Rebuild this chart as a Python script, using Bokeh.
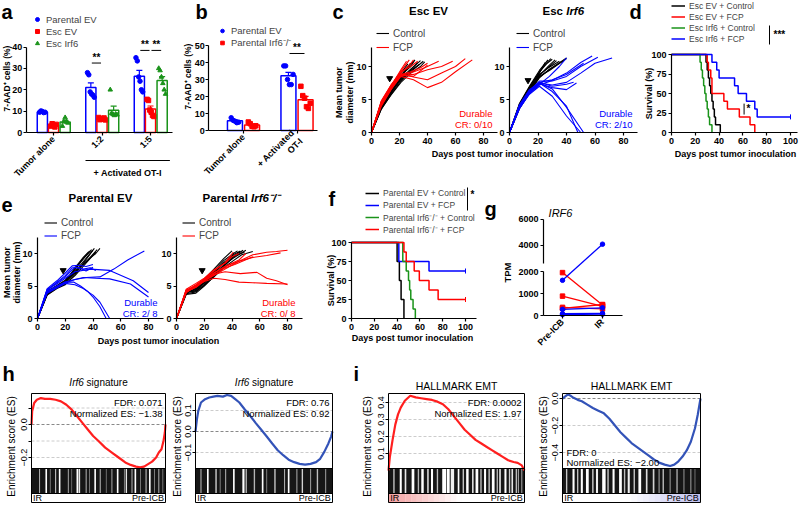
import math
from bokeh.plotting import figure
from bokeh.models import (Range1d, LinearAxis, FixedTicker, Label, Legend, LegendItem,
                          ColumnDataSource, Whisker, TeeHead)
from bokeh.embed import file_html
from bokeh.resources import INLINE

FONT = "Liberation Sans"
BLUE, RED, GREEN, BLACK = "#0000ff", "#ff0000", "#1a931a", "#000000"
GS_RED, GS_BLUE = "#ff1f1f", "#3353b8"

# ======================= DATA =======================
# (a) 7-AAD+ cells (%)
a_groups = ["Tumor alone", "1:2", "1:5"]
a_series = ["Parental EV", "Esc EV", "Esc Irf6"]
a_pev_mean = [9.6, 21.0, 26.3]
a_pev_sem = [0.3, 2.2, 2.8]
a_pev_pts = [[9.5, 10.1, 9.8, 9.3, 9.5], [28.0, 27.0, 19.0, 18.0, 17.5, 16.5], [35.0, 33.5, 26.0, 24.0, 20.0, 19.0]]
a_esc_mean = [3.4, 6.4, 11.0]
a_esc_sem = [0.5, 0.3, 1.4]
a_esc_pts = [[3.0, 4.1, 3.5, 2.6, 3.8], [7.0, 6.0, 6.5, 6.2, 6.8, 5.9], [15.5, 15.0, 10.5, 9.5, 8.0, 7.5]]
a_irf_mean = [4.9, 10.4, 24.3]
a_irf_sem = [0.9, 1.9, 1.8]
a_irf_pts = [[3.0, 5.0, 7.0, 5.0, 4.5], [20.0, 9.0, 8.5, 8.0, 8.6, 8.3], [30.0, 29.0, 26.0, 23.0, 20.0, 18.0]]
a_sig = [(1, 0, 1, 32.5, "**"), (2, 0, 1, 38.4, "**"), (2, 1, 2, 38.4, "**")]

# (b)
b_groups = ["Tumor alone", "+ Activated\nOT-I"]
b_series = ["Parental EV", "Parental Irf6⁻/⁻"]
b_pev_mean = [5.7, 32.2]
b_pev_sem = [0.5, 2.0]
b_pev_pts = [[7.5, 6.0, 5.5, 4.6, 4.9], [38.0, 38.0, 30.0, 27.0, 27.0, 33.0]]
b_ko_mean = [3.3, 18.1]
b_ko_sem = [0.5, 2.0]
b_ko_pts = [[5.0, 4.0, 2.5, 2.2, 2.8], [26.0, 20.5, 19.0, 14.0, 13.0, 16.0]]
b_sig = [(1, 0, 1, 45.3, "**")]

# (c) tumour growth, Esc EV / Esc Irf6
c_ev_ctrl_d = [[0,7,14,21,25,28],[0,7,14,21,26,30],[0,7,14,21,28,33],[0,7,14,21,28,35],[0,7,14,21,28,37],
               [0,7,14,21,28,31],[0,7,14,21,26],[0,7,14,21,28,35,38],[0,7,14,21,24,28],[0,7,14,21,28,34]]
c_ev_ctrl_v = [[0,3.8,6.0,8.3,9.5,10.5],[0,4.2,6.3,8.5,9.8,10.8],[0,3.5,5.8,7.8,9.5,10.6],[0,4.0,6.2,8.2,9.6,10.9],
               [0,3.9,6.1,8.0,9.2,10.8],[0,4.4,6.8,8.7,10.0,11.0],[0,4.6,7.0,9.0,10.4],[0,3.6,5.7,7.6,9.0,10.0,10.7],
               [0,4.1,6.5,8.6,9.5,10.5],[0,3.7,6.0,8.1,9.4,10.3]]
c_ev_fcp_d = [[0,7,14,21,25],[0,7,14,21,27],[0,7,14,21,28,30],[0,7,14,21,28,33],[0,7,14,21,28,35,40],
              [0,7,14,21,28,38,48],[0,7,14,21,30,40,50,58],[0,7,14,21,30,40,50,60,67],[0,7,14,21,30,40,50,60,72],
              [0,7,14,21,30,36,40]]
c_ev_fcp_v = [[0,4.5,7.0,9.5,10.8],[0,4.8,7.2,9.3,11.0],[0,4.3,6.8,9.0,10.4,11.0],[0,4.6,7.1,9.2,10.0,10.8],
              [0,4.2,6.6,8.8,9.2,9.8,10.5],[0,4.4,6.9,8.7,9.0,9.8,10.8],[0,4.0,6.5,8.6,8.8,9.5,10.0,10.8],
              [0,4.7,7.2,8.9,8.4,8.0,9.0,10.0,11.2],[0,4.1,6.6,8.5,8.0,6.8,7.6,9.2,11.0],[0,4.3,6.9,8.7,8.5,9.5,10.2]]
c_irf_ctrl_d = [[0,7,14,21,25],[0,7,14,21,26,30],[0,7,14,21,28,32],[0,7,14,21,28,35],[0,7,14,21,28,40],
                [0,7,14,21,27],[0,7,14,21,28,33],[0,7,14,21,28,37],[0,7,14,21,25,29],[0,7,14,21,28,40]]
c_irf_ctrl_v = [[0,4.1,6.6,9.0,10.6],[0,4.3,6.8,9.2,10.4,11.1],[0,3.8,6.3,8.6,10.2,11.0],[0,4.0,6.5,8.8,9.9,10.8],
                [0,3.7,6.2,8.5,9.4,11.2],[0,4.4,7.0,9.4,11.0],[0,3.9,6.4,8.7,10.0,10.9],[0,3.6,6.0,8.3,9.6,10.8],
                [0,4.2,6.9,9.1,10.3,11.2],[0,4.0,6.4,8.4,9.5,11.3]]
c_irf_fcp_d = [[0,7,14,21,30,40,50,60,72],[0,7,14,21,30,40,50,62],[0,7,14,21,30,40,50,58],[0,7,14,21,30,40,52],
               [0,7,14,21,30,40,47],[0,7,14,21,28,35,40],[0,7,14,21,30,40,48],[0,7,14,21,30,40,50,60,70,80],
               [0,7,14,21,30,40,45],[0,7,14,21,30,40,52]]
c_irf_fcp_v = [[0,3.8,6.0,7.5,7.2,7.6,9.0,10.5,11.3],[0,4.0,6.3,7.8,7.8,8.5,10.0,11.4],[0,3.6,5.9,7.2,7.9,9.0,10.6,11.6],
               [0,4.2,6.5,7.6,8.0,8.8,10.5],[0,4.0,6.2,7.4,6.8,6.5,7.5],[0,3.9,6.0,7.3,8.5,10.0,11.3],
               [0,4.1,6.2,7.5,6.2,4.0,0.0],[0,3.7,5.8,7.0,5.5,2.5,0.0,0.0,0.0,0.0],[0,3.9,6.2,7.6,7.0,7.3,7.6],
               [0,4.1,6.3,7.5,6.6,3.8,0.0]]
c_treat_day = [13, 13]
c_treat_mm = [8.2, 7.9]
c_cr = ["CR: 0/10", "CR: 2/10"]

# (d) survival, Esc
d_names = ["Esc EV + Control", "Esc EV + FCP", "Esc Irf6 + Control", "Esc Irf6 + FCP"]
d_t = [[0,29,30,31,32,33,34,35,36,37,41], [0,30,31,33,34,44,47,57,66,70],
       [0,24,25,26,27,28,29,30,31,32,34], [0,34,38,40,53,56,63,70,72,100]]
d_s = [[100,90,80,70,60,50,40,30,20,10,0], [100,90,80,70,50,40,30,20,10,0],
       [100,90,80,70,60,50,40,30,20,10,0], [100,90,80,70,60,50,40,30,20,20]]

# (e) tumour growth, Parental EV / Parental Irf6-/-
e_ev_ctrl_d = [[0,7,14,20,27,34,41],[0,7,14,20,27,34,42,45],[0,7,14,20,27,34,40],[0,7,14,20,27,34,39],
               [0,7,14,20,27,33,38],[0,7,14,20,27,34,42],[0,7,14,20,27,35,43],[0,7,14,20,27,33,37]]
e_ev_ctrl_v = [[0,3.8,4.8,5.5,7.2,9.0,10.8],[0,4.0,5.0,5.6,7.0,8.6,10.0,10.8],[0,3.6,4.6,5.2,6.8,8.8,10.5],
               [0,4.2,5.1,5.9,7.6,9.4,10.6],[0,3.9,4.9,5.7,7.5,9.3,10.4],[0,3.7,4.7,5.3,6.6,8.3,10.2],
               [0,4.1,5.0,5.8,7.2,8.7,10.6],[0,3.8,4.9,5.6,7.8,9.4,10.3]]
e_ev_fcp_d = [[0,7,14,20,27,35,45,55,65,77],[0,7,14,20,27,38,52,69,80],[0,7,14,20,27,33,42,52,67,80],
              [0,7,14,20,25,30,35,40],[0,7,14,20,27,33,38,42],[0,7,14,20,26,31,36,40,45,49.5],
              [0,7,14,20,27,33,40,45,52,60,69],[0,7,14,20,25,30,35,40]]
e_ev_fcp_v = [[0,4.2,5.0,5.6,6.0,6.3,6.4,7.6,9.0,10.4],[0,4.5,5.3,6.2,7.2,7.6,7.4,5.8,4.0],
              [0,4.0,4.8,5.5,6.0,6.3,6.2,6.1,5.3,3.3],[0,4.6,5.8,7.0,8.1,8.2,8.0,8.3],[0,4.3,5.5,6.4,7.9,7.6,7.8,7.4],
              [0,4.1,4.9,5.6,5.6,5.0,4.2,3.3,1.8,0.0],[0,3.9,4.7,5.4,5.2,4.6,3.6,2.5,0.0,0.0,0.0],
              [0,4.4,5.6,6.6,7.8,7.8,7.3,7.9]]
e_ko_ctrl_d = [[0,7,14,20,27,34,41,46],[0,7,14,20,27,34,41,48],[0,7,14,20,27,34,41,50],[0,7,14,20,27,34,41,44],
               [0,7,14,20,27,34,41,47,55],[0,7,14,20,27,34,40],[0,7,14,20,27,34,41,46],[0,7,14,20,27,34,41,49]]
e_ko_ctrl_v = [[0,4.0,4.3,5.4,7.0,8.6,9.8,10.4],[0,3.8,4.1,5.2,6.6,8.1,9.5,10.5],[0,4.2,4.4,5.5,6.8,8.2,9.3,10.5],
               [0,3.9,4.6,5.8,7.3,8.9,10.0,10.4],[0,4.1,4.2,5.1,6.4,7.8,8.9,9.8,10.3],[0,4.3,4.7,6.0,7.6,9.2,10.4],
               [0,3.7,3.9,5.0,6.5,8.0,9.5,10.3],[0,4.0,4.5,5.6,7.1,8.5,9.6,10.2]]
e_ko_fcp_d = [[0,7,14,20,27,35,45,55,65,72,80],[0,7,14,20,27,35,45,55,65,75],[0,7,14,20,27,35,45,55,65,80],
              [0,7,14,20,27,35,46,58,65,72,80],[0,7,14,20,27,35,45,50],[0,7,14,20,27,35,40,45],
              [0,7,14,20,27,35,42,55],[0,7,14,20,27,35,41]]
e_ko_fcp_v = [[0,4.2,4.8,5.8,6.6,7.6,8.8,9.8,10.2,10.3,10.5],[0,4.0,5.0,6.0,7.0,8.0,8.8,9.4,9.7,10.1],
              [0,4.4,5.0,5.7,6.2,6.0,5.6,5.5,5.4,5.3],[0,4.1,4.8,5.8,6.8,7.2,6.9,7.1,6.2,5.8,5.2],
              [0,4.3,5.1,6.0,7.0,8.0,9.0,10.0],[0,4.5,5.4,6.2,7.5,8.5,9.5,10.0],[0,4.0,5.0,5.8,6.7,7.8,8.3,9.5],
              [0,4.2,5.2,6.1,7.3,8.6,10.2]]
e_treat_day = [18.5, 18.5]
e_treat_mm = [7.4, 7.4]
e_cr = ["CR: 2/ 8", "CR: 0/ 8"]

# (f) survival, Parental
f_names = ["Parental EV + Control", "Parental EV + FCP", "Parental Irf6⁻/⁻ + Control", "Parental Irf6⁻/⁻ + FCP"]
f_t = [[0,40,42,43.5,46], [0,41.5,68,100], [0,45,48,50,51,52,54,56], [0,46,48,55,59.5,68,76,100]]
f_s = [[100,75,50,25,0], [100,75,62.5,62.5], [100,75,62.5,50,37.5,25,12.5,0], [100,87.5,75,62.5,50,37.5,25,25]]

# (g) IRF6 TPM, paired
g_cats = ["Pre-ICB", "IR"]
g_red_pre = [1950, 880, 370, 320]
g_red_ir = [480, 420, 300, 500]
g_blue_pre = [1600, 280, 80, 40]
g_blue_ir = [4100, 350, 100, 60]

# (h, i) GSEA running enrichment scores
h1_x = [0,0.005,0.02,0.04,0.07,0.10,0.14,0.18,0.22,0.26,0.30,0.34,0.38,0.42,0.46,0.50,0.55,0.60,0.65,0.70,
        0.74,0.78,0.81,0.84,0.87,0.90,0.93,0.95,0.97,0.985,0.995,1.0]
h1_es = [0,0.08,0.13,0.15,0.16,0.155,0.155,0.15,0.14,0.12,0.09,0.05,0.01,-0.03,-0.07,-0.10,-0.14,-0.17,-0.20,
         -0.23,-0.245,-0.255,-0.26,-0.255,-0.24,-0.225,-0.2,-0.17,-0.15,-0.10,-0.05,0.0]
h2_x = [0,0.01,0.02,0.04,0.07,0.10,0.13,0.16,0.20,0.23,0.26,0.29,0.32,0.36,0.40,0.44,0.48,0.52,0.56,0.60,0.64,
        0.68,0.72,0.76,0.80,0.84,0.88,0.91,0.94,0.97,0.99,1.0]
h2_es = [0,0.057,0.097,0.138,0.154,0.162,0.166,0.17,0.166,0.174,0.17,0.154,0.138,0.105,0.073,0.04,0.008,-0.024,
         -0.057,-0.089,-0.113,-0.134,-0.146,-0.154,-0.158,-0.154,-0.146,-0.13,-0.097,-0.057,-0.024,0.0]
i1_x = [0,0.01,0.03,0.05,0.07,0.09,0.12,0.16,0.20,0.24,0.28,0.32,0.36,0.40,0.44,0.48,0.52,0.56,0.60,0.64,0.68,
        0.72,0.76,0.80,0.84,0.88,0.92,0.95,0.98,1.0]
i1_es = [0,0.08,0.18,0.27,0.33,0.37,0.41,0.44,0.43,0.425,0.42,0.415,0.405,0.39,0.36,0.32,0.28,0.24,0.21,0.18,
         0.16,0.14,0.12,0.1,0.08,0.06,0.05,0.045,0.03,0.0]
i2_x = [0,0.02,0.04,0.06,0.08,0.11,0.14,0.18,0.22,0.26,0.30,0.34,0.38,0.42,0.46,0.50,0.54,0.58,0.62,0.66,0.70,
        0.74,0.78,0.81,0.84,0.87,0.90,0.93,0.96,0.98,1.0]
i2_es = [0,0.015,0.03,0.02,0.005,-0.01,-0.02,-0.045,-0.07,-0.09,-0.11,-0.15,-0.2,-0.25,-0.29,-0.33,-0.36,-0.39,
         -0.42,-0.45,-0.475,-0.49,-0.5,-0.49,-0.465,-0.43,-0.385,-0.32,-0.22,-0.12,0.0]
# gene-set hit stripes in the barcode (position, width, grey level)
h1_bc_pos = [0.06,0.11,0.14,0.18,0.21,0.275,0.30,0.343,0.358,0.408,0.433,0.475,0.513,0.558,0.60,0.643,0.693,0.708,
             0.75,0.775,0.813,0.855,0.883,0.918,0.95,0.98]
h1_bc_w = [0.008,0.012,0.006,0.008,0.012,0.008,0.006,0.014,0.01,0.008,0.006,0.012,0.008,0.006,0.008,0.012,0.006,
           0.01,0.008,0.012,0.006,0.008,0.012,0.006,0.008,0.006]
h1_bc_g = [170,255,140,200,255,160,120,255,230,170,140,255,180,130,160,255,150,230,170,255,140,190,255,150,170,140]
h2_bc_pos = [0.04,0.09,0.15,0.18,0.22,0.28,0.35,0.37,0.43,0.49,0.52,0.58,0.65,0.68,0.74,0.78,0.84,0.89,0.95]
h2_bc_w = [0.008,0.012,0.01,0.006,0.008,0.012,0.016,0.008,0.01,0.012,0.006,0.01,0.008,0.012,0.008,0.01,0.008,0.01,0.008]
h2_bc_g = [180,255,210,150,170,255,255,220,180,255,150,200,170,255,160,210,150,190,150]
i1_bc_pos = [0.04,0.09,0.125,0.18,0.22,0.25,0.29,0.32,0.36,0.41,0.44,0.47,0.515,0.55,0.58,0.62,0.65,0.68,0.71,
             0.74,0.77,0.80,0.82,0.86,0.89,0.91,0.94,0.955,0.98]
i1_bc_w = [0.01,0.015,0.012,0.02,0.01,0.018,0.012,0.015,0.01,0.03,0.02,0.025,0.012,0.01,0.018,0.012,0.02,0.01,
           0.015,0.01,0.02,0.01,0.012,0.015,0.01,0.012,0.01,0.008,0.008]
i1_bc_g = [200,255,230,255,180,255,210,255,190,255,255,240,255,200,255,220,255,190,255,200,255,180,230,255,200,
           230,190,170,160]
i2_bc_pos = [0.03,0.08,0.11,0.14,0.18,0.22,0.25,0.30,0.33,0.37,0.42,0.45,0.48,0.52,0.56,0.61,0.66,0.70,0.73,0.78,
             0.83,0.88,0.93,0.96]
i2_bc_w = [0.01,0.015,0.01,0.015,0.02,0.01,0.015,0.025,0.01,0.015,0.02,0.01,0.015,0.01,0.02,0.012,0.012,0.008,
           0.01,0.008,0.01,0.008,0.008,0.006]
i2_bc_g = [200,255,190,255,255,210,240,255,200,255,255,190,240,200,255,220,210,160,190,150,170,140,150,130]

# ======================= CANVAS =======================
W, H, OX, OY = 800, 505, 0, 0
p = figure(width=W, height=H, output_backend="svg", toolbar_location=None,
           x_range=Range1d(OX, OX + W), y_range=Range1d(OY + H, OY),
           x_axis_location=None, y_axis_location=None, min_border=0)
p.outline_line_color = None
p.grid.visible = False
p.background_fill_color = "white"
p.border_fill_color = "white"

XR, YR = {}, {}


def xmap(name, v0, p0, v1, p1):
    s = (p1 - p0) / (v1 - v0)
    XR[name] = Range1d(v0 + (OX - p0) / s, v0 + (OX + W - p0) / s)


def ymap(name, v0, p0, v1, p1):
    s = (p1 - p0) / (v1 - v0)
    YR[name] = Range1d(v0 + (OY + H - p0) / s, v0 + (OY - p0) / s)


def axis(side, xn, yn, loc, bounds, ticks, labels=None, size="9px", style="bold",
         orient="horizontal", lw=1.2, tick_out=3, standoff=2):
    ax = LinearAxis(x_range_name=xn, y_range_name=yn, fixed_location=loc, bounds=bounds,
                    ticker=FixedTicker(ticks=ticks))
    if labels is not None:
        ax.major_label_overrides = labels
    ax.major_label_text_font = FONT
    ax.major_label_text_font_size = size
    ax.major_label_text_font_style = style
    ax.major_label_text_color = BLACK
    ax.major_label_orientation = orient
    ax.major_label_standoff = standoff
    ax.axis_line_width = lw
    ax.axis_line_color = BLACK
    ax.major_tick_line_width = lw
    ax.major_tick_out = tick_out
    ax.major_tick_in = 0
    ax.minor_tick_out = 0
    ax.minor_tick_in = 0
    p.add_layout(ax, side)
    return ax


def lbl(x, y, t, size="10px", style="normal", color=BLACK, align="left", base="middle",
        angle=0.0, xn="default", yn="default"):
    p.add_layout(Label(x=x, y=y, text=t, text_font=FONT, text_font_size=size, text_font_style=style,
                       text_color=color, text_align=align, text_baseline=base, angle=angle,
                       x_range_name=xn, y_range_name=yn))


def legend(items, left, top, size="10px", glyph_w=12, row_h=12, standoff=4):
    lg = Legend(items=[LegendItem(label=l, renderers=[r]) for l, r in items],
                location=(left - OX, OY + H - (top + row_h * len(items))))
    lg.label_text_font = FONT
    lg.label_text_font_size = size
    lg.label_height = row_h
    lg.glyph_height = row_h - 2
    lg.glyph_width = glyph_w
    lg.label_standoff = standoff
    lg.spacing = 0
    lg.padding = 0
    lg.margin = 0
    lg.border_line_color = None
    lg.background_fill_alpha = 0
    p.add_layout(lg)


def letter(x, y, t):
    lbl(x, y, t, size="20px", style="bold", base="top")


def seg(xn, yn, x0, y0, x1, y1, color=BLACK, lw=1.0, dash="solid"):
    p.segment(x0=[x0], y0=[y0], x1=[x1], y1=[y1], line_color=color, line_width=lw, line_dash=dash,
              x_range_name=xn, y_range_name=yn)


def bars(xn, yn, offs, width, means, sems, pts, colors, markers, spread):
    rs = []
    for k in range(len(means)):
        m, s, pp = means[k], sems[k], pts[k]
        xs = [g + offs[k] for g in range(len(m))]
        src = ColumnDataSource(dict(x=xs, top=m, lo=[a - b for a, b in zip(m, s)],
                                    hi=[a + b for a, b in zip(m, s)]))
        p.vbar(x="x", top="top", bottom=0, width=width, source=src, fill_color="white",
               line_color=colors[k], line_width=1.5, x_range_name=xn, y_range_name=yn)
        p.add_layout(Whisker(source=src, base="x", lower="lo", upper="hi", dimension="height",
                             line_color=colors[k], line_width=1.2,
                             upper_head=TeeHead(size=6, line_color=colors[k], line_width=1.2),
                             lower_head=TeeHead(size=6, line_color=colors[k], line_width=1.2),
                             x_range_name=xn, y_range_name=yn))
        px, py = [], []
        for g, vals in enumerate(pp):
            n = len(vals)
            for i, v in enumerate(vals):
                px.append(g + offs[k] + (i - (n - 1) / 2) * spread)
                py.append(v)
        rs.append(p.scatter(px, py, marker=markers[k], size=4.5, color=colors[k],
                            x_range_name=xn, y_range_name=yn))
    return rs


def sig(xn, yn, offs, sigs):
    for g, i, j, y, t in sigs:
        x0, x1 = g + offs[i] + 0.02, g + offs[j] - 0.02
        seg(xn, yn, x0, y, x1, y, lw=1.0)
        lbl((x0 + x1) / 2, y, t, size="10px", style="bold", align="center", base="bottom", xn=xn, yn=yn)


# ---------------- (a) ----------------
xmap("ax", 0, 53, 2, 150)
ymap("ay", 0, 132, 40, 46.5)
a_off = [-0.23, 0.0, 0.24]
a_rs = bars("ax", "ay", a_off, 0.21, [a_pev_mean, a_esc_mean, a_irf_mean], [a_pev_sem, a_esc_sem, a_irf_sem],
            [a_pev_pts, a_esc_pts, a_irf_pts], [BLUE, RED, GREEN], ["circle", "square", "triangle"], 0.028)
axis("left", "ax", "ay", -0.56, (0, 40), [0, 10, 20, 30, 40], standoff=1)
axis("below", "ax", "ay", 0, (-0.56, 2.45), [0, 1, 2], {i: g for i, g in enumerate(a_groups)},
     orient=math.pi / 4)
sig("ax", "ay", a_off, a_sig)
seg("ax", "default", 0.66, 160, 2.4, 160, lw=1.0)
lbl(1.53, 172, "+ Activated OT-I", size="9px", style="bold", align="center", xn="ax")
lbl(6, 78, "7-AAD⁺ cells (%)", size="8.5px", style="bold", align="center", angle=math.pi / 2)
legend(list(zip(a_series, a_rs)), 32, 13, size="9.5px", glyph_w=10, row_h=12)
letter(1, 0, "a")

# ---------------- (b) ----------------
xmap("bx", 0, 243, 1, 296.5)
ymap("by", 0, 130, 50, 45)
b_off = [-0.16, 0.16]
b_rs = bars("bx", "by", b_off, 0.28, [b_pev_mean, b_ko_mean], [b_pev_sem, b_ko_sem], [b_pev_pts, b_ko_pts],
            [BLUE, RED], ["circle", "square"], 0.035)
axis("left", "bx", "by", -0.65, (0, 50), [0, 10, 20, 30, 40, 50], standoff=1)
axis("below", "bx", "by", 0, (-0.65, 1.38), [0, 1], {i: g for i, g in enumerate(b_groups)}, orient=math.pi / 4)
sig("bx", "by", b_off, b_sig)
lbl(187, 76, "7-AAD⁺ cells (%)", size="8.5px", style="bold", align="center", angle=math.pi / 2)
legend(list(zip(b_series, b_rs)), 217, 27, size="9.5px", glyph_w=10, row_h=11)
letter(195, 0, "b")

# ---------------- (c) ----------------
ymap("cy", 0, 132, 10, 66)
xmap("c1x", 0, 371, 80, 483)
xmap("c2x", 0, 509, 80, 623)
c_sets = [("c1x", c_ev_ctrl_d, c_ev_ctrl_v, c_ev_fcp_d, c_ev_fcp_v, RED, 376, 492),
          ("c2x", c_irf_ctrl_d, c_irf_ctrl_v, c_irf_fcp_d, c_irf_fcp_v, BLUE, 516, 632)]
for k, (xn, cd, cv, fd, fv, col, lx, rx) in enumerate(c_sets):
    r_ctrl = p.multi_line(xs=cd, ys=cv, line_color=BLACK, line_width=1.1, x_range_name=xn, y_range_name="cy")
    r_fcp = p.multi_line(xs=fd, ys=fv, line_color=col, line_width=1.1, x_range_name=xn, y_range_name="cy")
    axis("left", xn, "cy", 0, (0, 12.9), [0, 5, 10])
    axis("below", xn, "cy", 0, (0, 90), [0, 20, 40, 60, 80])
    p.scatter([c_treat_day[k]], [c_treat_mm[k]], marker="inverted_triangle", size=6, color=BLACK,
              x_range_name=xn, y_range_name="cy")
    legend([("Control", r_ctrl), ("FCP", r_fcp)], lx, 26, size="10px", glyph_w=13, row_h=14)
    lbl(rx, 113, "Durable", size="9.5px", color=col, align="right")
    lbl(rx, 124, c_cr[k], size="9.5px", color=col, align="right")
lbl(428, 10, "Esc EV", size="11.5px", style="bold", align="center")
lbl(562.5, 10, "Esc", size="11.5px", style="bold", align="right")
lbl(565.7, 10, "Irf6", size="11.5px", style="bold italic", align="left")
lbl(492, 153, "Days post tumor inoculation", size="9px", style="bold", align="center")
lbl(338, 92, "Mean tumor", size="9px", style="bold", align="center", angle=math.pi / 2)
lbl(349, 92, "diameter (mm)", size="9px", style="bold", align="center", angle=math.pi / 2)
letter(332, 0, "c")

# ---------------- (d) ----------------
xmap("dx", 0, 671, 100, 790)
ymap("dy", 0, 132, 100, 54)
d_cols = [BLACK, RED, GREEN, BLUE]
d_rs = []
for t, s, c in zip(d_t, d_s, d_cols):
    d_rs.append(p.step(x=t, y=s, mode="after", line_color=c, line_width=1.5, x_range_name="dx", y_range_name="dy"))
p.scatter([d_t[3][-1]], [d_s[3][-1]], marker="dash", angle=math.pi / 2, size=5, color=BLUE,
          x_range_name="dx", y_range_name="dy")
axis("left", "dx", "dy", 0, (0, 100), [0, 25, 50, 75, 100])
axis("below", "dx", "dy", 0, (0, 106), [0, 20, 40, 60, 80, 100])
legend(list(zip(d_names, d_rs)), 671, 0, size="8.5px", glyph_w=14, row_h=11, standoff=4)
seg("default", "default", 769, 25, 769, 44)
lbl(773, 34, "***", size="10px", style="bold")
seg("dx", "dy", 61, 23, 61, 37)
lbl(63, 31, "*", size="10px", style="bold", xn="dx", yn="dy")
lbl(735, 153, "Days post tumor inoculation", size="9px", style="bold", align="center")
lbl(648, 93, "Survival (%)", size="9px", style="bold", align="center", angle=math.pi / 2)
letter(629, 0, "d")

# ---------------- (e) ----------------
ymap("ey", 0, 318, 10, 253)
xmap("e1x", 0, 37, 80, 148)
xmap("e2x", 0, 176, 80, 287)
e_sets = [("e1x", e_ev_ctrl_d, e_ev_ctrl_v, e_ev_fcp_d, e_ev_fcp_v, BLUE, 44, 157),
          ("e2x", e_ko_ctrl_d, e_ko_ctrl_v, e_ko_fcp_d, e_ko_fcp_v, RED, 182, 295)]
for k, (xn, cd, cv, fd, fv, col, lx, rx) in enumerate(e_sets):
    r_ctrl = p.multi_line(xs=cd, ys=cv, line_color=BLACK, line_width=1.1, x_range_name=xn, y_range_name="ey")
    r_fcp = p.multi_line(xs=fd, ys=fv, line_color=col, line_width=1.1, x_range_name=xn, y_range_name="ey")
    axis("left", xn, "ey", 0, (0, 12.5), [0, 5, 10])
    axis("below", xn, "ey", 0, (0, 91), [0, 20, 40, 60, 80])
    p.scatter([e_treat_day[k]], [e_treat_mm[k]], marker="inverted_triangle", size=6, color=BLACK,
              x_range_name=xn, y_range_name="ey")
    legend([("Control", r_ctrl), ("FCP", r_fcp)], lx, 216, size="10px", glyph_w=13, row_h=13)
    lbl(rx, 302, "Durable", size="9.5px", color=col, align="right")
    lbl(rx, 313, e_cr[k], size="9.5px", color=col, align="right")
lbl(100, 197, "Parental EV", size="11.5px", style="bold", align="center")
lbl(247.4, 197, "Parental", size="11.5px", style="bold", align="right")
lbl(250.6, 197, "Irf6⁻/⁻", size="11.5px", style="bold italic", align="left")
lbl(158, 340, "Days post tumor inoculation", size="9px", style="bold", align="center")
lbl(6, 272, "Mean tumor", size="9px", style="bold", align="center", angle=math.pi / 2)
lbl(16, 272, "diameter (mm)", size="9px", style="bold", align="center", angle=math.pi / 2)
letter(1, 197, "e")

# ---------------- (f) ----------------
xmap("fx", 0, 351, 100, 465)
ymap("fy", 0, 318, 100, 242)
f_cols = [BLACK, BLUE, GREEN, RED]
f_rs = []
for t, s, c in zip(f_t, f_s, f_cols):
    f_rs.append(p.step(x=t, y=s, mode="after", line_color=c, line_width=1.5, x_range_name="fx", y_range_name="fy"))
p.scatter([f_t[1][-1], f_t[3][-1]], [f_s[1][-1], f_s[3][-1]], marker="dash", angle=math.pi / 2, size=5,
          color=[BLUE, RED], x_range_name="fx", y_range_name="fy")
axis("left", "fx", "fy", 0, (0, 100), [0, 25, 50, 75, 100])
axis("below", "fx", "fy", 0, (0, 110), [0, 20, 40, 60, 80, 100])
legend(list(zip(f_names, f_rs)), 365, 187, size="8.5px", glyph_w=14, row_h=12, standoff=4)
seg("default", "default", 467, 187, 467, 210)
lbl(470, 194, "*", size="10px", style="bold")
lbl(412, 337, "Days post tumor inoculation", size="9px", style="bold", align="center")
lbl(330, 280, "Survival (%)", size="9px", style="bold", align="center", angle=math.pi / 2)
letter(328, 187, "f")

# ---------------- (g) ----------------
G_GAP_LO, G_GAP_HI, G_UP = 2000.0, 2615.0, 13.0 / 22.0


def brk(v):
    # broken-axis mapping: lower segment linear, upper segment compressed
    if v <= G_GAP_LO:
        return v
    if v < G_GAP_HI:
        return G_GAP_LO + (v - G_GAP_LO) * 364.0 / (G_GAP_HI - G_GAP_LO)
    return 2364.0 + (v - G_GAP_HI) * G_UP


xmap("gx", 0, 562, 1, 602)
ymap("gy", 0, 315, 2000, 271)
for pre, ir, col, mk in [(g_red_pre, g_red_ir, RED, "square"), (g_blue_pre, g_blue_ir, BLUE, "circle")]:
    y0 = [brk(v) for v in pre]
    y1 = [brk(v) for v in ir]
    p.segment(x0=[0] * len(pre), x1=[1] * len(ir), y0=y0, y1=y1, line_color=col, line_width=1.3,
              x_range_name="gx", y_range_name="gy")
    p.scatter([0] * len(pre) + [1] * len(ir), y0 + y1, marker=mk, size=4.5, color=col,
              x_range_name="gx", y_range_name="gy")
axis("left", "gx", "gy", -0.475, (0, 2000), [0, 1000, 2000])
g_up_ticks = [round(brk(4000), 4), round(brk(6000), 4)]
axis("left", "gx", "gy", -0.475, (round(brk(G_GAP_HI), 4), g_up_ticks[1]), g_up_ticks,
     {g_up_ticks[0]: "4000", g_up_ticks[1]: "6000"})
axis("below", "gx", "gy", 0, (-0.475, 1.5), [0, 1], {0: g_cats[0], 1: g_cats[1]}, orient=math.pi / 4)
lbl(560, 212, "IRF6", size="11px", style="italic", align="center")
lbl(507, 272, "TPM", size="9.5px", style="bold", align="center", angle=math.pi / 2)
letter(484, 197, "g")

# ---------------- (h, i) GSEA ----------------
ymap("bcy", 0, 493, 1, 468)


def ghex(g):
    return "#%02x%02x%02x" % (g, g, g)


def gsea(key, left, right, es_a, es_b, ticks, tlabels, xs, ys, color, bpos, bw, bg, grad=None):
    xn, yn = key + "x", key + "y"
    xmap(xn, 0, left, 1, right)
    ymap(yn, es_a[0], es_a[1], es_b[0], es_b[1])
    for t in ticks:
        seg(xn, yn, 0, t, 1, t, color="#888888" if t == 0 else "#cccccc", lw=1.0, dash="3 2")
    p.quad(left=[0], right=[1], bottom=[0], top=[1], fill_color="#161616", line_color=None,
           x_range_name=xn, y_range_name="bcy")
    p.vbar(x=bpos, width=bw, bottom=0, top=1, fill_color=[ghex(g) for g in bg], line_color=None,
           x_range_name=xn, y_range_name="bcy")
    if grad is not None:
        col, side = grad
        n = 24
        for i in range(n):
            f = i / n if side == "right" else 1 - (i + 1) / n
            a = max(0.0, (f - 0.45) / 0.55)
            if a > 0:
                p.quad(left=[i / n], right=[(i + 1) / n], bottom=[-0.36], top=[0], fill_color=col,
                       fill_alpha=a, line_color=None, x_range_name=xn, y_range_name="bcy")
    p.line(xs, ys, line_color=color, line_width=2.2, x_range_name=xn, y_range_name=yn)
    p.quad(left=[0], right=[1], bottom=[-0.36], top=[4.0], fill_color=None, line_color=BLACK, line_width=1,
           x_range_name=xn, y_range_name="bcy")
    seg(xn, "bcy", 0, 1, 1, 1)
    seg(xn, "bcy", 0, 0, 1, 0)
    axis("left", xn, yn, 0, (min(ticks), max(ticks)), ticks, tlabels, size="9px", style="normal",
         orient="vertical", lw=1.0, tick_out=3, standoff=2)
    lbl(0.012, -0.19, "IR", size="9px", xn=xn, yn="bcy")
    lbl(0.988, -0.19, "Pre-ICB", size="9px", align="right", xn=xn, yn="bcy")


gsea("h1", 31, 165, (0.0, 424), (-0.2, 457), [0.1, 0.0, -0.1, -0.2],
     {0.1: "", 0.0: "0.0", -0.1: "", -0.2: "−0.2"}, h1_x, h1_es, GS_RED, h1_bc_pos, h1_bc_w, h1_bc_g)
gsea("h2", 195, 332, (0.0, 431), (0.1, 410), [0.1, 0.0, -0.1],
     {0.1: "0.1", 0.0: "0.0", -0.1: "−0.1"}, h2_x, h2_es, GS_BLUE, h2_bc_pos, h2_bc_w, h2_bc_g)
gsea("i1", 388, 524, (0.4, 402), (0.1, 453), [0.1, 0.2, 0.3, 0.4],
     {0.1: "0.1", 0.2: "0.2", 0.3: "0.3", 0.4: "0.4"}, i1_x, i1_es, GS_RED, i1_bc_pos, i1_bc_w, i1_bc_g,
     grad=("#f29a9a", "left"))
gsea("i2", 562, 700, (0.0, 398), (-0.4, 452), [0.0, -0.2, -0.4],
     {0.0: "0.0", -0.2: "−0.2", -0.4: "−0.4"}, i2_x, i2_es, GS_BLUE, i2_bc_pos, i2_bc_w, i2_bc_g,
     grad=("#b9b9ec", "right"))

for cx in [98, 263.5]:
    lbl(cx - 14.7, 382, "Irf6", size="10px", style="italic", align="right")
    lbl(cx - 11.9, 382, "signature", size="10px", align="left")
lbl(456, 385, "HALLMARK EMT", size="10.5px", align="center")
lbl(631, 385, "HALLMARK EMT", size="10.5px", align="center")
lbl(162, 402, "FDR: 0.071", size="9.5px", align="right")
lbl(162, 412.5, "Normalized ES: −1.38", size="9.5px", align="right")
lbl(329, 402, "FDR: 0.76", size="9.5px", align="right")
lbl(329, 412.5, "Normalized ES: 0.92", size="9.5px", align="right")
lbl(521, 402, "FDR: 0.0002", size="9.5px", align="right")
lbl(521, 412.5, "Normalized ES: 1.97", size="9.5px", align="right")
lbl(566, 452, "FDR: 0", size="9.5px", align="left")
lbl(566, 462, "Normalized ES: −2.00", size="9.5px", align="left")
for x in [11, 177, 367, 543]:
    lbl(x, 446, "Enrichment score (ES)", size="10px", align="center", angle=math.pi / 2)
letter(2, 362, "h")
letter(353, 362, "i")

p.extra_x_ranges = XR
p.extra_y_ranges = YR

open("out.html", "w").write(file_html(p, INLINE))
